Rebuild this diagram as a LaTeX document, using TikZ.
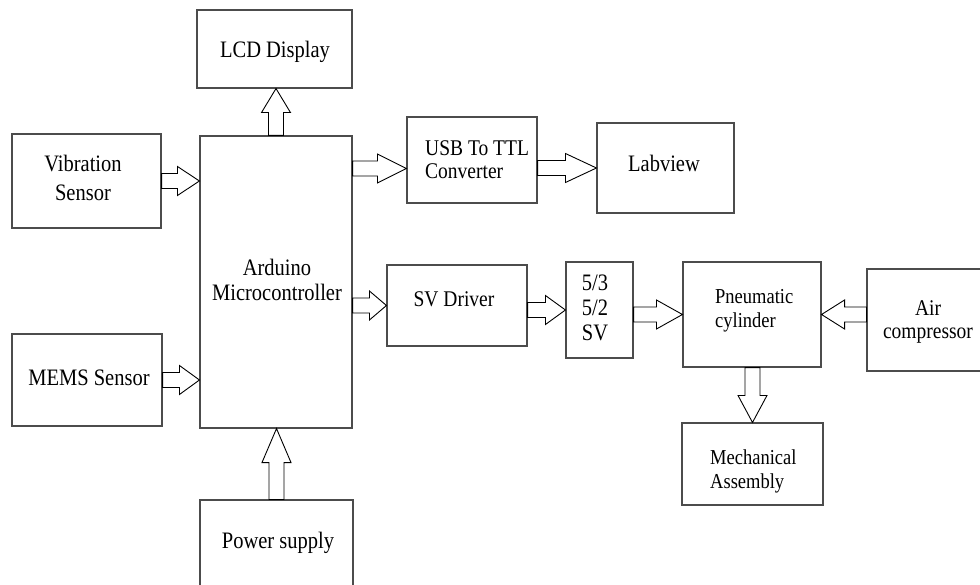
\documentclass[tikz,border=0pt]{standalone}
\usepackage{fontspec}
\setmainfont{Liberation Serif}
\usetikzlibrary{calc}
\tikzset{
  box/.style 2 args={draw=black!70,line width=1.1pt,inner sep=0pt,minimum width=#1pt,minimum height=#2pt},
  txt/.style={inner sep=0pt,align=center,yscale=1.15,font=\fontsize{20.5}{#1}\selectfont},
  txt/.default=21.7,
  blk/.style={line width=0.9pt,line join=miter,
    to path={let \p1=(\tikztostart),\p2=(\tikztotarget),\n1={atan2(\y2-\y1,\x2-\x1)},\n2={veclen(\x2-\x1,\y2-\y1)-#1} in
      (\p1) ++(\n1+90:7.5pt) -- ++(\n1:\n2) -- ++(\n1+90:7pt) -- (\p2)
      -- ($(\p1)+(\n1:\n2)+(\n1-90:14.5pt)$) -- ++(\n1+90:7pt) -- ++(\n1+180:\n2) -- cycle}},
  blk/.default=22
}
\begin{document}
\begin{tikzpicture}[x=1pt,y=-1pt]
  \clip (0,0) rectangle (980,585);
  \node[box={155}{78}] (lcd) at (274.5,49) {};
  \node[box={149}{94}] (vib) at (86.5,181) {};
  \node[box={152}{292}] (ard) at (276,282) {};
  \node[box={150}{92}] (mems) at (87,380) {};
  \node[box={153}{95}] (pwr) at (276.5,547.5) {};
  \node[box={130}{86}] (usb) at (472,160) {};
  \node[box={137}{90}] (lab) at (665.5,168) {};
  \node[box={140}{81}] (svd) at (457,305.5) {};
  \node[box={67}{96}] (sv) at (599.5,310) {};
  \node[box={138}{105}] (pneu) at (752,314.5) {};
  \node[box={123}{102}] (air) at (928.5,320) {};
  \node[box={141}{82}] (mech) at (752.5,464) {};

  \node[txt,anchor=base] (lcdt) at (275,58) {LCD Display};
  \node[txt=25.2] (vibt) at (83,178) {Vibration\\Sensor};
  \node[txt] (ardt) at (277,280) {Arduino\\Microcontroller};
  \node[txt,anchor=base] (memst) at (89,385) {MEMS Sensor};
  \node[txt,anchor=base] (pwrt) at (278,548) {Power supply};
  \node[txt=20,font=\fontsize{19.5}{20}\selectfont,align=left,anchor=west] (usbt) at (425,160) {USB To TTL\\Converter};
  \node[txt,anchor=base] (labt) at (664,172) {Labview};
  \node[txt,font=\fontsize{19.5}{20}\selectfont,anchor=base] (svdt) at (454,307) {SV Driver};
  \node[txt] (svt) at (595,307.5) {5/3\\5/2\\SV};
  \node[txt,font=\fontsize{18.5}{20.9}\selectfont,align=left,anchor=west] (pneut) at (715,311) {Pneumatic\\cylinder};
  \node[txt,font=\fontsize{19.5}{20}\selectfont] (airt) at (928,321.5) {Air\\compressor};
  \node[txt,font=\fontsize{18.5}{20.9}\selectfont,align=left,anchor=west] (mecht) at (710,471) {Mechanical\\Assembly};

  \coordinate (usbin) at ([yshift=-8.5pt]usb.west);
  \draw[blk=22] (vib.east) to (vib.east -| ard.west);
  \draw[blk=20] (mems.east) to (mems.east -| ard.west);
  \draw[blk=24] (ard.north) to (ard.north |- lcd.south);
  \draw[blk=34] (pwr.north) to (pwr.north |- ard.south);
  \draw[blk=29] (usbin -| ard.east) to (usbin);
  \draw[blk=31] (lab.west -| usb.east) to (lab.west);
  \draw[blk=17] (svd.west -| ard.east) to (svd.west);
  \draw[blk=20] (sv.west -| svd.east) to (sv.west);
  \draw[blk=26] (pneu.west -| sv.east) to (pneu.west);
  \draw[blk=23] (pneu.east -| air.west) to (pneu.east);
  \draw[blk=27] (mech.north |- pneu.south) to (mech.north);
\end{tikzpicture}
\end{document}
